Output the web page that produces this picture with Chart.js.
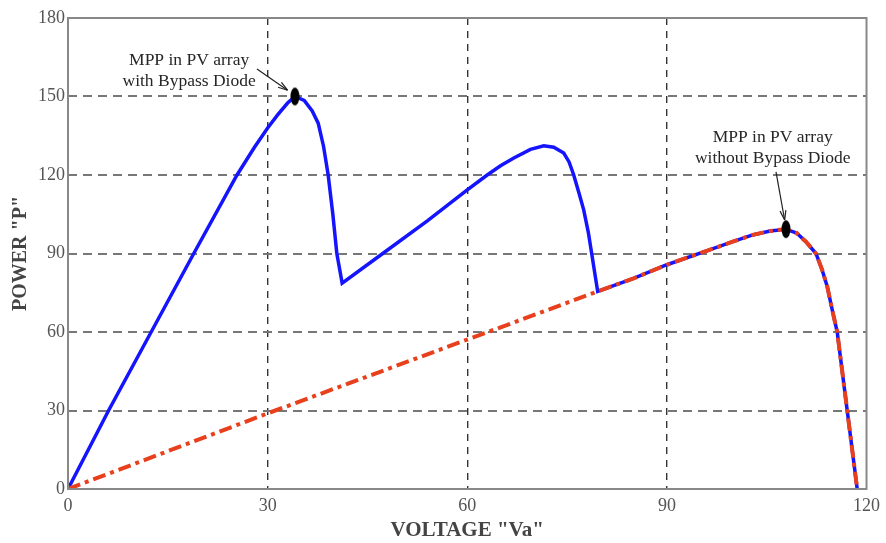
<!DOCTYPE html>
<html>
<head>
<meta charset="utf-8">
<script src="https://cdn.jsdelivr.net/npm/chart.js@4.4.0/dist/chart.umd.min.js"></script>
<style>
html,body{margin:0;padding:0;background:#fff;}
#wrap{width:886px;height:543px;position:relative;}
</style>
</head>
<body>
<div id="wrap"><canvas id="c" width="886" height="543"></canvas></div>
<script>
// With bypass diode (blue)
const blueVoltage = [0, 6.1, 12.5, 18.9, 25.4, 28, 30, 31.5, 33, 34.1, 35.5, 36.7, 37.6, 38.4, 39.1, 39.8, 40.4, 41.2, 47.3, 54, 60, 63, 65, 67, 69.5, 71.5, 73, 74.5, 75.3, 76, 76.8, 77.5, 78.2, 78.7, 79.6, 85, 90, 96.4, 100, 102.9, 105.5, 107.9, 109.5, 110.9, 112.4, 113.3, 114.1, 114.8, 115.6, 117.1, 118.6];
const bluePower   = [0, 30, 60, 90, 120, 130.5, 138, 143, 147.5, 150, 148.5, 144.5, 139.8, 131, 120, 105, 90, 78.7, 90, 102.5, 114.3, 120, 123.5, 126.5, 129.8, 131.2, 130.6, 128.4, 125, 120, 113, 106.7, 98, 90, 75.5, 80.5, 85.7, 91.4, 94.6, 97.1, 98.6, 99.3, 97.8, 94.5, 90, 84, 77.4, 69, 60, 30, 0];
// Without bypass diode (red)
const redVoltage = [0, 30, 43.6, 79.6, 85, 90, 96.4, 100, 102.9, 105.5, 107.9, 109.5, 110.9, 112.4, 113.3, 114.1, 114.8, 115.6, 117.1, 118.6];
const redPower   = [0, 28.9, 41.7, 75.5, 80.5, 85.7, 91.4, 94.6, 97.1, 98.6, 99.3, 97.8, 94.5, 90, 84, 77.4, 69, 60, 30, 0];
// MPP markers
const mppVoltage = [34.1, 107.9];
const mppPower   = [150, 99.3];
const xTicks = [0, 30, 60, 90, 120];
const yTicks = [0, 30, 60, 90, 120, 150, 180];

function pts(xs, ys){ return xs.map((x,i)=>({x:x, y:ys[i]})); }

// ellipse marker image
const mk = document.createElement('canvas');
mk.width = 10; mk.height = 20;
(function(){
  const g = mk.getContext('2d');
  g.fillStyle = '#000';
  g.beginPath(); g.ellipse(5,10,4.5,9,0,0,Math.PI*2); g.fill();
})();

const annotations = [
  {lines:['MPP in PV array','with Bypass Diode'], x:18.2, y:163.8, ax1:28.4, ay1:160.5, ax2:33.0, ay2:152.4},
  {lines:['MPP in PV array','without Bypass Diode'], x:105.9, y:134.5, ax1:106.4, ay1:121.2, ax2:107.7, ay2:102.8}
];

const framePlugin = {
  id:'frame',
  afterDatasetsDraw(chart){
    const {ctx, chartArea:a, scales} = chart;
    ctx.save();
    ctx.strokeStyle = '#888'; ctx.lineWidth = 2;
    ctx.strokeRect(a.left, a.top, a.right-a.left, a.bottom-a.top);
    ctx.font = '17.5px "Liberation Serif"';
    ctx.fillStyle = '#262626';
    ctx.textAlign = 'center'; ctx.textBaseline = 'middle';
    annotations.forEach(an=>{
      const px = scales.x.getPixelForValue(an.x);
      const py = scales.y.getPixelForValue(an.y);
      an.lines.forEach((l,i)=> ctx.fillText(l, px, py + i*21));
      const x1 = scales.x.getPixelForValue(an.ax1), y1 = scales.y.getPixelForValue(an.ay1);
      const x2 = scales.x.getPixelForValue(an.ax2), y2 = scales.y.getPixelForValue(an.ay2);
      ctx.strokeStyle = '#222'; ctx.lineWidth = 1.2;
      ctx.beginPath(); ctx.moveTo(x1,y1); ctx.lineTo(x2,y2); ctx.stroke();
      const ang = Math.atan2(y2-y1, x2-x1);
      ctx.beginPath();
      ctx.moveTo(x2,y2);
      ctx.lineTo(x2-10*Math.cos(ang-0.3), y2-10*Math.sin(ang-0.3));
      ctx.moveTo(x2,y2);
      ctx.lineTo(x2-10*Math.cos(ang+0.3), y2-10*Math.sin(ang+0.3));
      ctx.stroke();
    });
    ctx.restore();
  }
};

const bgPlugin = {
  id:'bg',
  beforeDraw(chart){ const c=chart.ctx; c.save(); c.fillStyle='#fff'; c.fillRect(0,0,chart.width,chart.height); c.restore(); }
};

new Chart(document.getElementById('c'), {
  type:'scatter',
  data:{
    datasets:[
      {label:'with bypass', data:pts(blueVoltage, bluePower), showLine:true, borderColor:'#1414ff', borderWidth:3.5, pointRadius:0, tension:0, order:3},
      {label:'without bypass', data:pts(redVoltage, redPower), showLine:true, borderColor:'#e8401c', borderWidth:4, borderDash:[13,5,4,5], pointRadius:0, tension:0, order:2},
      {label:'MPP', data:pts(mppVoltage, mppPower), showLine:false, pointStyle:mk, pointRadius:9, order:1}
    ]
  },
  options:{
    responsive:false, animation:false,
    devicePixelRatio:1,
    layout:{padding:{top:18, right:15, left:0, bottom:0}},
    plugins:{legend:{display:false}, tooltip:{enabled:false}},
    scales:{
      x:{
        type:'linear', min:0, max:120,
        afterBuildTicks(s){ s.ticks = xTicks.map(v=>({value:v})); },
        afterFit(s){ s.height = 54; },
        border:{display:false, dash:[7,6]},
        grid:{color:(c)=> (c.tick && (c.tick.value===0||c.tick.value===120)) ? 'rgba(0,0,0,0)' : '#333', lineWidth:1.4, drawTicks:false},
        ticks:{color:'#555', font:{family:'Liberation Serif', size:18}, padding:6, maxRotation:0},
        title:{display:true, text:'VOLTAGE "Va"', color:'#444', font:{family:'Liberation Serif', size:21, weight:'bold'}, padding:{top:0,bottom:0}}
      },
      y:{
        type:'linear', min:0, max:180,
        afterBuildTicks(s){ s.ticks = yTicks.map(v=>({value:v})); },
        afterFit(s){ s.width = 68; },
        border:{display:false, dash:[9,6]},
        grid:{color:(c)=> (c.tick && (c.tick.value===0||c.tick.value===180)) ? 'rgba(0,0,0,0)' : '#777', lineWidth:2, drawTicks:false},
        ticks:{color:'#555', font:{family:'Liberation Serif', size:18}, padding:3},
        title:{display:true, text:'POWER "P"', color:'#444', font:{family:'Liberation Serif', size:20, weight:'bold'}, padding:{top:9,bottom:0}}
      }
    }
  },
  plugins:[bgPlugin, framePlugin]
});
</script>
</body>
</html>
